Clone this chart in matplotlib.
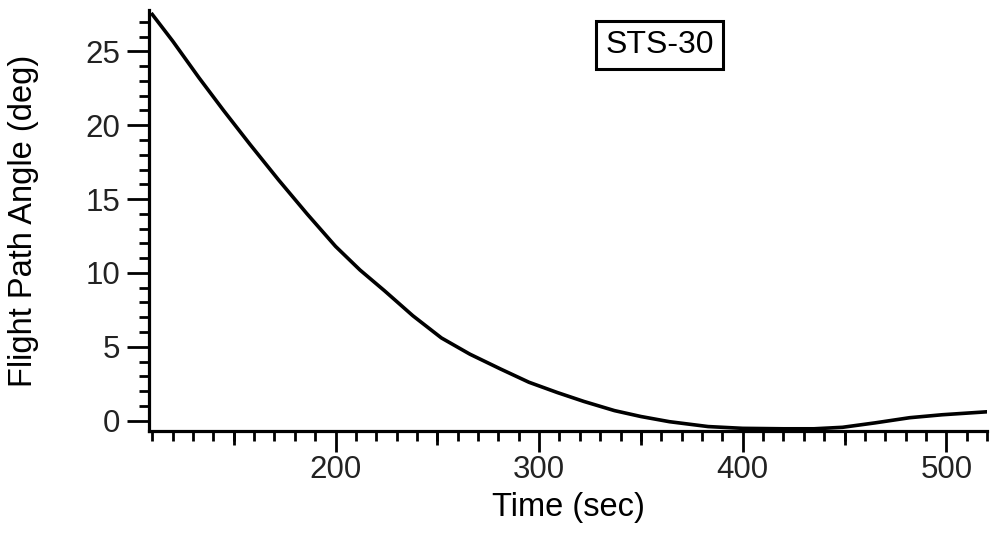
import numpy as np
from matplotlib import pyplot as plt
from matplotlib.ticker import MultipleLocator, FixedLocator, NullFormatter

plt.rc('font', family='Liberation Sans')

# flight path angle vs time
time = [110, 120, 133, 145, 158, 172, 186, 200, 212, 224, 238, 252, 266, 281,
        295, 309, 322, 337, 350, 364, 383, 400, 420, 435, 449, 465, 482, 498, 520]
gamma = [27.5, 25.7, 23.2, 21.0, 18.7, 16.3, 14.0, 11.8, 10.2, 8.8, 7.1, 5.6, 4.5, 3.5,
         2.6, 1.9, 1.3, 0.68, 0.28, -0.07, -0.4, -0.52, -0.55, -0.55, -0.45, -0.15, 0.2, 0.4, 0.6]
x_major = [200, 300, 400, 500]
x_mid = [150, 250, 350, 450]
y_major = [0, 5, 10, 15, 20, 25]
flight = 'STS-30'

fig = plt.figure(figsize=(9.91, 5.35), dpi=100)
ax = fig.add_axes([0.1504, 0.1944, 0.8456, 0.7869])

ax.plot(time, gamma, color='black', linewidth=2.6, solid_joinstyle='round')

ax.set_xlim(108.4, 520)
ax.set_ylim(-0.7, 27.8)

for s in ['top', 'right']:
    ax.spines[s].set_visible(False)
for s in ['left', 'bottom']:
    ax.spines[s].set_linewidth(2.3)

ax.xaxis.set_major_locator(FixedLocator(x_major))
ax.xaxis.set_minor_locator(MultipleLocator(10))
ax.yaxis.set_major_locator(FixedLocator(y_major))
ax.yaxis.set_minor_locator(MultipleLocator(1))

ax.tick_params(axis='both', which='major', direction='out', width=2.0,
               labelsize=22.5, labelcolor='#222222')
ax.tick_params(axis='x', which='major', length=15, pad=2)
ax.tick_params(axis='y', which='major', length=16, pad=5)
ax.tick_params(axis='both', which='minor', direction='out', width=2.0, length=7.5)

# medium ticks at the 50s
sec = ax.secondary_xaxis('bottom')
sec.xaxis.set_major_locator(FixedLocator(x_mid))
sec.xaxis.set_major_formatter(NullFormatter())
sec.tick_params(direction='out', length=10, width=2.0)
sec.spines['bottom'].set_visible(False)

ax.set_xlabel('Time (sec)', fontsize=23.5, labelpad=5)
ax.set_ylabel('Flight Path Angle (deg)', fontsize=23.5, labelpad=33)

ax.text(0.609, 0.917, flight, transform=ax.transAxes, fontsize=23,
        ha='center', va='center',
        bbox=dict(boxstyle='square,pad=0.28', facecolor='white',
                  edgecolor='black', linewidth=2.2))

fig.savefig('out.png', dpi=100)
